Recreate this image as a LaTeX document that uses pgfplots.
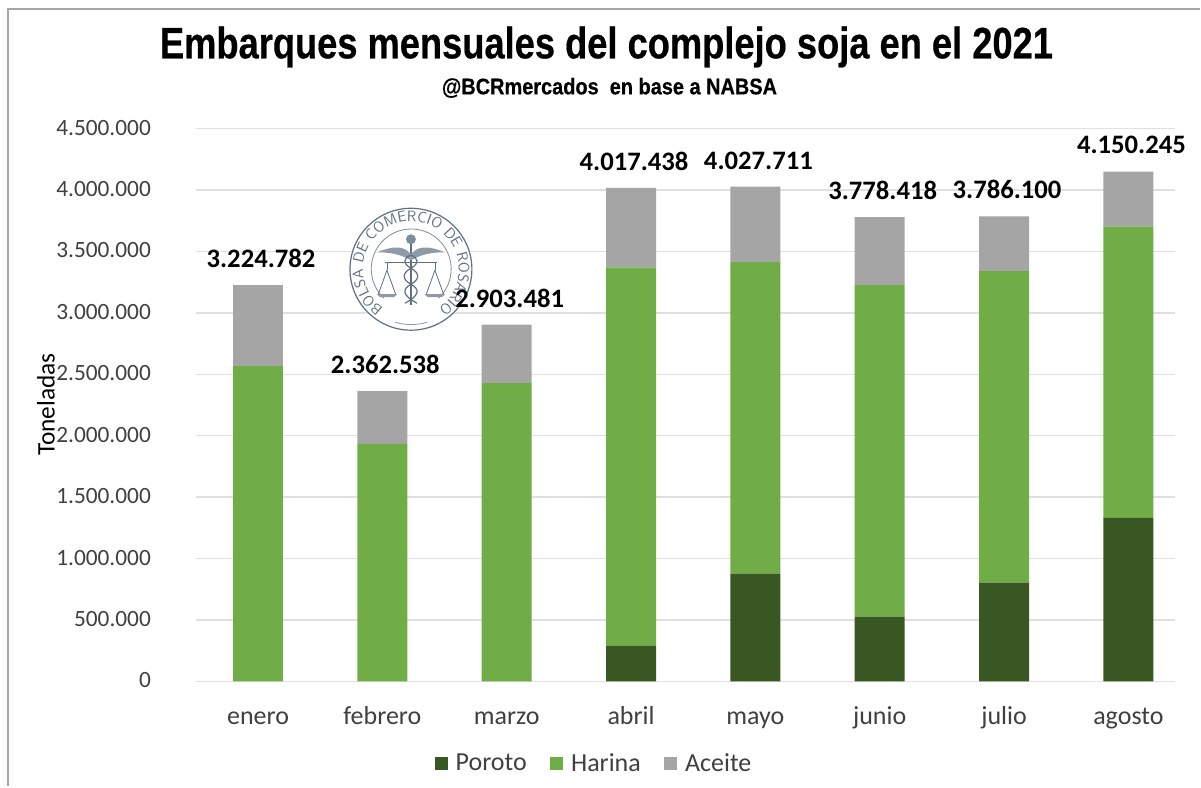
\documentclass[border=0pt]{standalone}
\usepackage{fontspec}
\usepackage{pgfplots}
\pgfplotsset{compat=1.18}
\usetikzlibrary{decorations.text}
\setmainfont{Carlito}
\newfontfamily\titlefont[BoldFeatures={FakeBold=0.5}]{Liberation Sans}
\definecolor{poroto}{HTML}{385723}
\definecolor{harina}{HTML}{70AD47}
\definecolor{aceite}{HTML}{A5A5A5}
\definecolor{sealc}{HTML}{5F6F84}
\definecolor{txt}{HTML}{404040}
\newsavebox\sealbox
\begin{document}
\sbox\sealbox{\begin{tikzpicture}[x=0.75pt,y=0.75pt]
\fill[white] (0,0) circle (62);
\draw[sealc,line width=0.9pt] (0,0) circle (61);
\draw[sealc!80,line width=0.6pt] (-27,-29) arc[start angle=227,end angle=-47,radius=40];
\draw[sealc!70,line width=0.6pt] (-16,-53) arc[start angle=253,end angle=287,radius=55];
\path[decorate,decoration={text along path,text align=center,
  text={|\sffamily\fontsize{11.3}{13}\selectfont\color{sealc}|BOLSA DE COMERCIO DE ROSARIO}}]
  (-29.55,-37.82) arc[start angle=232,end angle=-52,radius=48];
\draw[sealc,line width=1.2pt] (0,-36) -- (0,28);
\fill[sealc!70] (-34,17) .. controls (-14,25) and (-6,22) .. (0,15) .. controls (6,22) and (14,25) .. (34,17) .. controls (14,17) and (6,12) .. (0,9) .. controls (-6,12) and (-14,17) .. (-34,17);
\draw[sealc,line width=0.7pt] (-26,7) -- (26,7);
\draw[sealc,line width=0.6pt] (-24,7) -- (-24,-1) (24,7) -- (24,-1);
\draw[sealc,line width=0.6pt] (-24,-1) -- (-33,-26) (-24,-1) -- (-15,-26) (24,-1) -- (33,-26) (24,-1) -- (15,-26);
\fill[sealc!70] (-34,-25) -- (-14,-25) -- (-17,-28) -- (-31,-28) -- cycle;
\fill[sealc!70] (34,-25) -- (14,-25) -- (17,-28) -- (31,-28) -- cycle;
\draw[sealc,line width=0.9pt] (-6,-34) .. controls (9,-26) and (9,-20) .. (0,-15) .. controls (-9,-10) and (-9,-4) .. (0,1) .. controls (9,6) and (7,12) .. (0,14);
\draw[sealc,line width=0.9pt] (6,-34) .. controls (-9,-26) and (-9,-20) .. (0,-15) .. controls (9,-10) and (9,-4) .. (0,1) .. controls (-9,6) and (-7,12) .. (0,14);
\fill[sealc!80] (0,30) circle (5);
\end{tikzpicture}}%
\begin{tikzpicture}[x=0.75pt,y=0.75pt]
\path (0,0) rectangle (1201,787);
\fill[white] (0,0) rectangle (1201,787);
\draw[gray!70,line width=1.5pt] (8,0) -- (8,778) -- (1201,778);
\begin{axis}[
  at={(147pt,78.75pt)},anchor=south west,
  scale only axis,width=735pt,height=415pt,
  ybar stacked,bar width=37.5pt,
  xmin=-0.5,xmax=7.375,ymin=0,ymax=4500000,
  axis x line*=bottom,axis y line*=left,
  x axis line style={draw=black!12,line width=1pt,-},
  y axis line style={draw=none},
  scaled y ticks=false,
  ymajorgrids,
  grid style={draw=black!12,line width=1pt},
  ytick={0,500000,1000000,1500000,2000000,2500000,3000000,3500000,4000000,4500000},
  yticklabels={0,500.000,1.000.000,1.500.000,2.000.000,2.500.000,3.000.000,3.500.000,4.000.000,4.500.000},
  xtick={0,1,2,3,4,5,6,7},
  xticklabels={enero,febrero,marzo,abril,mayo,junio,julio,agosto},
  tick style={draw=none},
  yticklabel style={font=\fontsize{17.5}{20}\selectfont,text=txt,xshift=-30.25pt,yshift=0.75pt},
  xticklabel style={font=\fontsize{19.5}{22}\selectfont,text=txt,yshift=-15.5pt,text height=13pt,text depth=4pt},
  clip=false,
  legend style={at={(0.407,-0.12)},anchor=north,draw=none,fill=none,
    legend columns=3,font=\fontsize{19.5}{22}\selectfont\color{txt},
    /tikz/every odd column/.style={column sep=4pt},
    /tikz/every even column/.style={column sep=15.5pt}},
  legend image code/.code={\fill[#1] (0,-4.9pt) rectangle (9.75pt,4.9pt);},
]
\addplot[fill=poroto,draw=none] coordinates {(0,0)(1,0)(2,0)(3,292000)(4,877000)(5,528000)(6,804000)(7,1332000)};
\addplot[fill=harina,draw=none] coordinates {(0,2567000)(1,1933000)(2,2429000)(3,3079000)(4,2535000)(5,2697000)(6,2535000)(7,2372000)};
\addplot[fill=aceite,draw=none] coordinates {(0,657782)(1,429538)(2,474481)(3,646438)(4,615711)(5,553418)(6,447100)(7,446245)};
\node[inner sep=0pt] at (axis cs:1.23,3355000) {\usebox\sealbox};
\addplot[forget plot,draw=none,fill=none,
  nodes near coords,point meta=explicit symbolic,
  every node near coord/.style={anchor=south,xshift=2.25pt,yshift=9.5pt,text=black,font=\fontsize{20}{22}\selectfont\bfseries}]
  coordinates {(0,1)[3.224.782](1,1)[2.362.538](2,1)[2.903.481](3,1)[4.017.438](4,1)[4.027.711](5,1)[3.778.418](6,1)[3.786.100](7,1)[4.150.245]};
\legend{Poroto,Harina,Aceite}
\end{axis}
\node[rotate=90,font=\fontsize{19}{22}\selectfont,text=black] at (46,382) {Toneladas};
\node[font=\titlefont\bfseries\fontsize{33}{38}\selectfont] at (607,740) {\scalebox{0.825}[1]{Embarques mensuales del complejo soja en el 2021}};
\node[font=\titlefont\bfseries\fontsize{17}{20}\selectfont] at (610,699) {\scalebox{0.88}[1]{@BCRmercados\ \ en base a NABSA}};
\end{tikzpicture}
\end{document}
